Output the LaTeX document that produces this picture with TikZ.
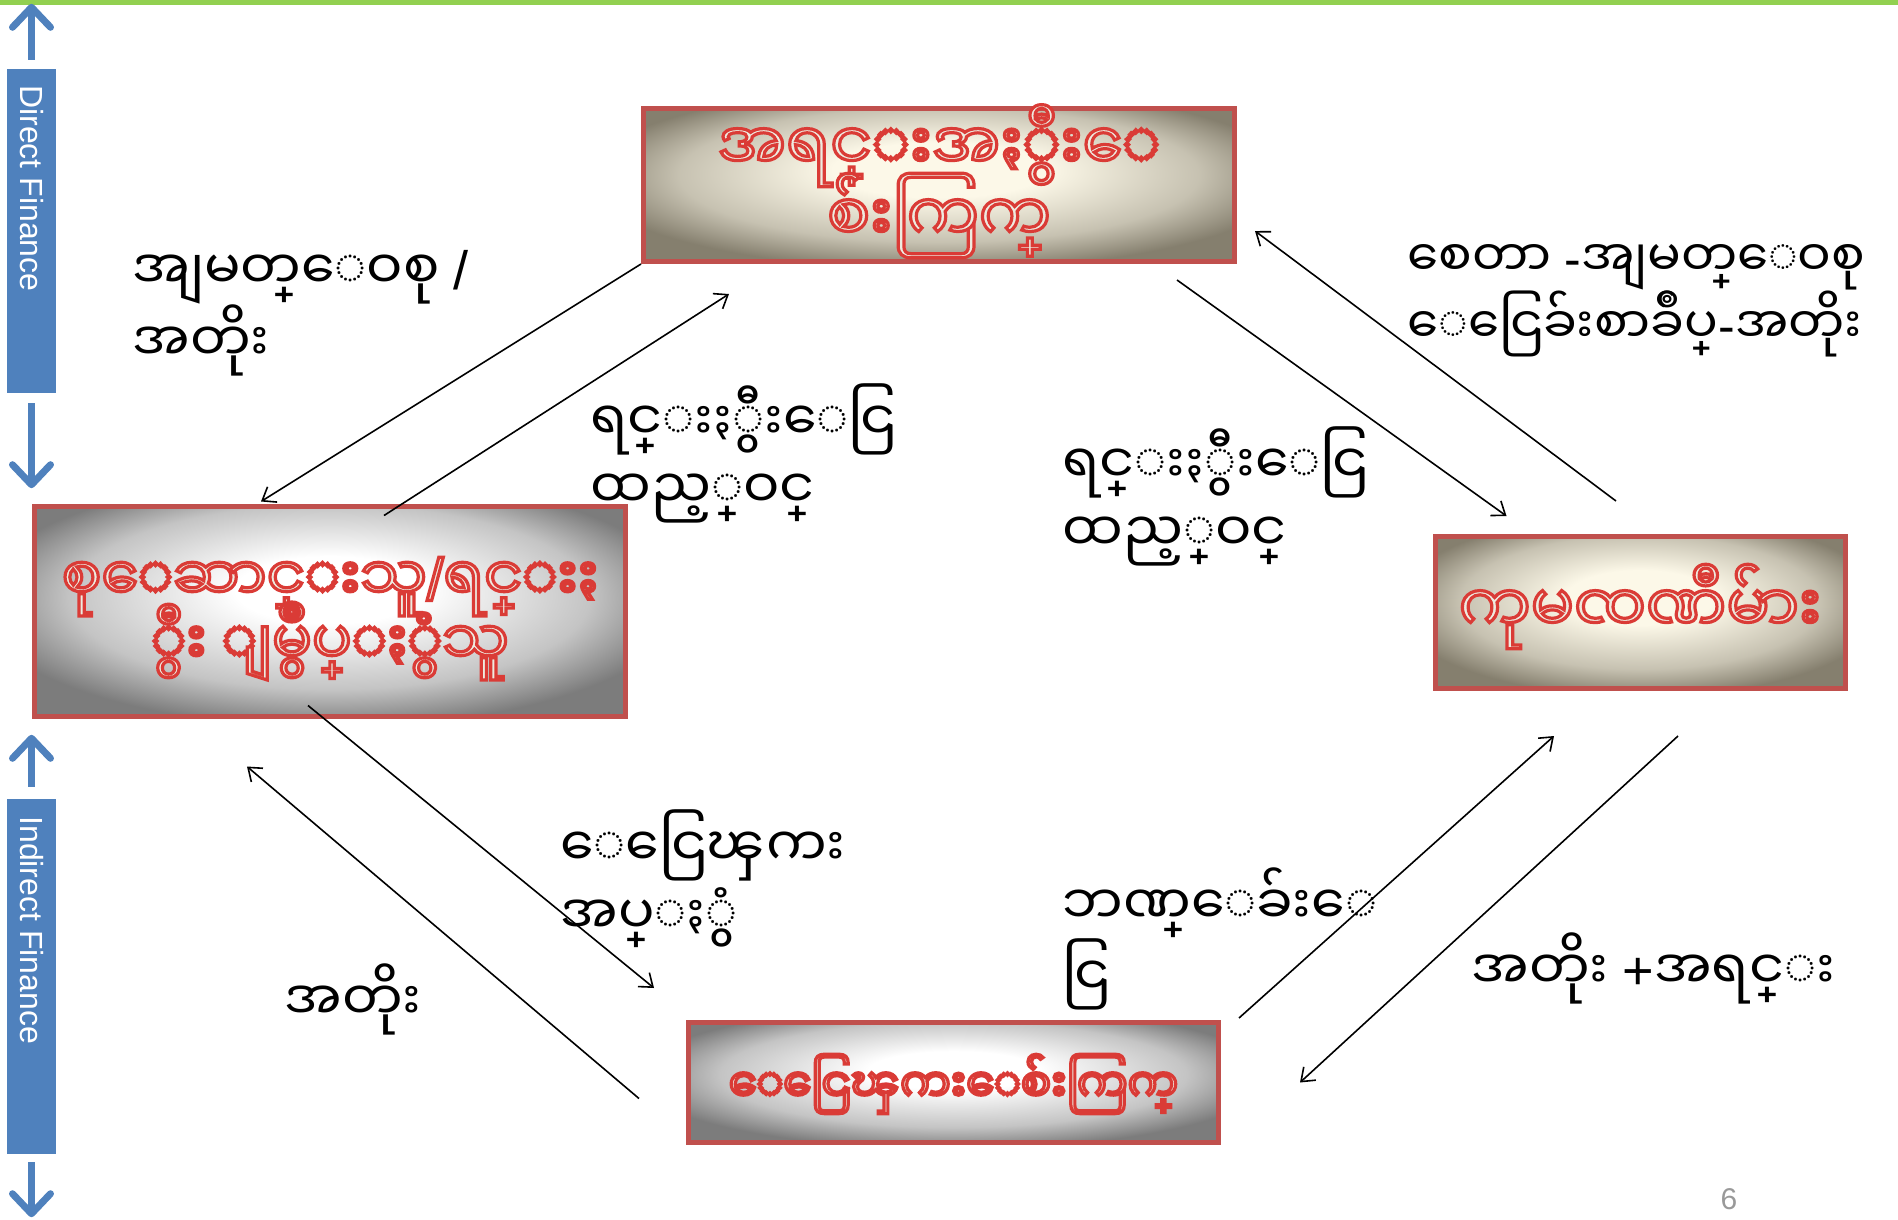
\documentclass[tikz,border=0pt]{standalone}
\usepackage{fontspec}
\usetikzlibrary{arrows.meta,positioning}
\setsansfont{Liberation Sans}
\newfontfamily\mya[Script=Myanmar]{Noto Sans Myanmar UI}
\definecolor{mktred}{HTML}{C0504D}
\definecolor{finblue}{HTML}{4F81BD}
\definecolor{linegreen}{HTML}{92D050}
\definecolor{cream}{HTML}{FCF8E8}
\definecolor{taupe}{HTML}{857F6E}
\definecolor{ashgray}{HTML}{7C7C7C}
\definecolor{glyphfill}{HTML}{EEEBE0}
\pgfdeclareradialshading{creamglow}{\pgfpoint{0bp}{6bp}}{color(0bp)=(cream); color(9bp)=(cream); color(22bp)=(cream!55!taupe); color(30bp)=(taupe); color(50bp)=(taupe)}
\pgfdeclareradialshading{grayglow}{\pgfpoint{0bp}{6bp}}{color(0bp)=(white); color(8bp)=(white); color(22bp)=(white!55!ashgray); color(30bp)=(ashgray); color(50bp)=(ashgray)}
% red outlined glyphs: fill + stroke text render mode
\newcommand{\outl}[2][0pt]{\smash{\raisebox{#1}{\color{glyphfill}\special{pdf:code 2 Tr 3.2 w 0.855 0.231 0.212 RG}#2\special{pdf:code 0 Tr}}}}

\begin{document}
\begin{tikzpicture}[x=1pt,y=-1pt,
  mkt/.style n args={4}{draw=mktred,line width=5pt,inner sep=0pt,align=center,
    minimum width=#1,minimum height=#2,shade,shading=#3,font=#4},
  lbl/.style={align=left,anchor=west,font=\mya\fontsize{54}{68}\selectfont},
  finbar/.style={fill=finblue,minimum width=49pt,inner sep=0pt},
  fintext/.style={rotate=-90,anchor=west,text=white,font=\sffamily\fontsize{32}{32}\selectfont},
  flow/.style={-{Straight Barb[length=12pt,width=18pt]},line width=1.6pt},
  bluearr/.style={finblue,line width=7pt,-{Straight Barb[length=20pt,width=38pt,round]}}]
\useasboundingbox (0,0) rectangle (1898,1219);
\fill[linegreen] (0,0) rectangle (1898,5);

% the four markets
\node[mkt={591pt}{153pt}{creamglow}{\mya\fontsize{64}{71}\selectfont}] (market) at (939,185)
   {\outl[-20pt]{အရင္းအႏွီးေ}\\\outl[-20pt]{စ်းကြက္}};
\node[mkt={591pt}{210pt}{grayglow}{\mya\fontsize{59}{64}\selectfont}] (savers) at (330,611)
   {\outl[-21pt]{စုေဆာင္းသူ{\sffamily/}ရင္းႏ}\\\outl[-21pt]{ွီး ျမွဳပ္ႏွံသူ}};
\node[mkt={410pt}{152pt}{creamglow}{\mya\fontsize{64}{70}\selectfont}] (firms) at (1640,612.5)
   {\outl[-19pt]{ကုမၸဏီမ်ား}};
\node[mkt={530pt}{120pt}{grayglow}{\mya\fontsize{45}{50}\selectfont}] (moneymkt) at (953.5,1082.5)
   {\outl[-19pt]{ေငြေၾကးေစ်းကြက္}};

% side bars
\node[finbar,minimum height=324pt] (dirbar) at (31.5,231) {};
\node[finbar,minimum height=355pt] (indbar) at (31.5,976.5) {};
\node[fintext] (dirtxt) at ([yshift=-13pt]dirbar.north) {Direct Finance};
\node[fintext] (indtxt) at ([yshift=-14pt]indbar.north) {Indirect Finance};
\coordinate (tip1) at ([yshift=65pt]dirbar.north);
\coordinate (tip2) at ([yshift=-95pt]dirbar.south);
\coordinate (tip3) at ([yshift=64pt]indbar.north);
\coordinate (tip4) at ([yshift=-63pt]indbar.south);
\draw[bluearr,shorten <=9pt] (dirbar.north) -- (tip1);
\draw[bluearr,shorten <=10pt] (dirbar.south) -- (tip2);
\draw[bluearr,shorten <=12pt] (indbar.north) -- (tip3);
\draw[bluearr,shorten <=8pt] (indbar.south) -- (tip4);

% flows
\coordinate (s1) at (market.south west);
\coordinate (e1) at ([xshift=-69pt,yshift=2pt]savers.north);
\coordinate (s2) at ([xshift=54pt,yshift=-12pt]savers.north);
\coordinate (e2) at ([xshift=88pt,yshift=-30pt]market.south west);
\coordinate (s3) at ([xshift=-60pt,yshift=-16pt]market.south east);
\coordinate (e3) at ([xshift=74pt,yshift=18pt]firms.north west);
\coordinate (s4) at ([xshift=-24pt,yshift=33pt]firms.north);
\coordinate (e4) at ([xshift=18pt,yshift=-46pt]market.east);
\coordinate (s5) at ([xshift=-22pt,yshift=13pt]savers.south);
\coordinate (e5) at ([xshift=-32pt,yshift=32pt]moneymkt.north west);
\coordinate (s6) at ([xshift=-47pt,yshift=-16pt]moneymkt.west);
\coordinate (e6) at ([xshift=-83pt,yshift=-48pt]savers.south);
\coordinate (s7) at ([xshift=18pt,yshift=2pt]moneymkt.north east);
\coordinate (e7) at ([xshift=-86pt,yshift=-45pt]firms.south);
\coordinate (s8) at ([xshift=38pt,yshift=-45pt]firms.south);
\coordinate (e8) at ([xshift=79pt]moneymkt.east);
\foreach \i in {1,...,8} {
   \draw[flow] (s\i) -- (e\i);
}

\node[lbl] (divlbl) at (129,313) {အျမတ္ေဝစု {\sffamily/}\\အတိုး};
\node[lbl,font=\mya\fontsize{50}{66}\selectfont] (stocklbl) at (1404,301) {စေတာ {\sffamily-}အျမတ္ေဝစု\\ေငြေခ်းစာခ်ဳပ္{\sffamily-}အတိုး};
\node[lbl] (invlbl) at (587,453) {ရင္းႏွီးေငြ\\ထည့္ဝင္};
\node[lbl] (invlblb) at (1059,496) {ရင္းႏွီးေငြ\\ထည့္ဝင္};
\node[lbl] (deplbl) at (557,879) {ေငြေၾကး\\အပ္ႏွံ};
\node[lbl] (loanlbl) at (1059,939) {ဘဏ္ေခ်းေ\\ငြ};
\node[lbl] (intlbl) at (281,999) {အတိုး};
\node[lbl] (repaylbl) at (1468,968) {အတိုး {\sffamily+}အရင္း};
\node[text=gray!80,font=\sffamily\fontsize{30}{30}\selectfont] (pgno) at (1729,1199) {6};
\end{tikzpicture}
\end{document}
